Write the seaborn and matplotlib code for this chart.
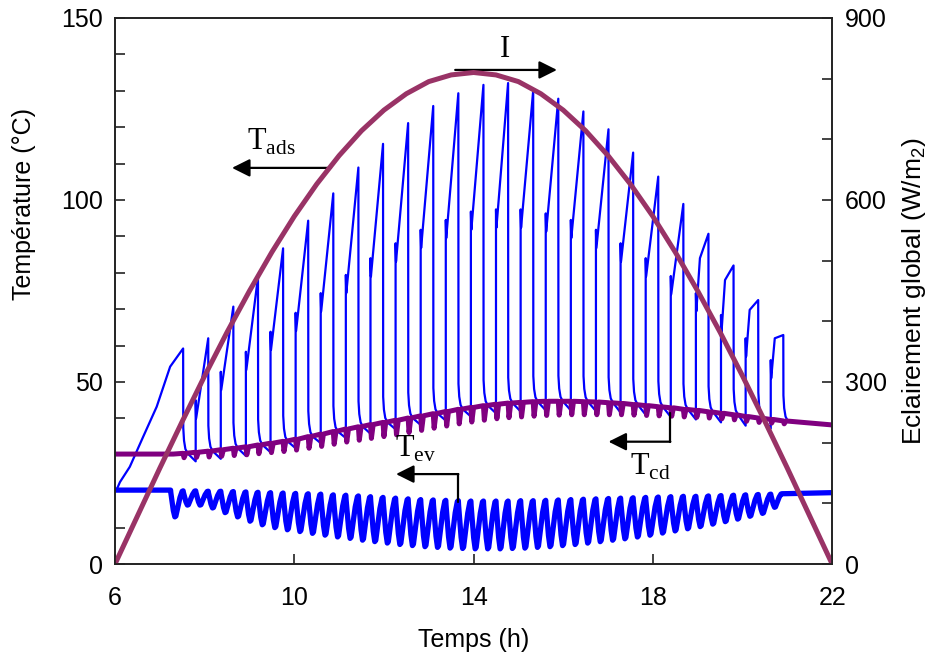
import matplotlib
matplotlib.use("Agg")
import matplotlib.pyplot as plt
import seaborn as sns

# global irradiance I (W/m2), read every half hour
i_time = [6.0, 6.5, 7.0, 7.5, 8.0, 8.5, 9.0, 9.5, 10.0, 10.5, 11.0, 11.5, 12.0, 12.5, 13.0, 13.5,
          14.0, 14.5, 15.0, 15.5, 16.0, 16.5, 17.0, 17.5, 18.0, 18.5, 19.0, 19.5, 20.0, 20.5, 21.0, 21.5, 22.0]
i_value = [0, 79, 158, 235, 310, 382, 450, 514, 573, 626, 673, 714, 748, 775, 795, 806,
           810, 806, 795, 775, 748, 714, 673, 626, 573, 514, 450, 382, 310, 235, 158, 79, 0]

# switching instants (h) of the adsorber cycle
event_t = [7.24, 7.52, 7.80, 8.08, 8.36, 8.64, 8.92, 9.19, 9.47, 9.75,
           10.03, 10.31, 10.59, 10.87, 11.15, 11.43, 11.70, 11.98, 12.26, 12.54,
           12.82, 13.10, 13.38, 13.66, 13.94, 14.22, 14.50, 14.77, 15.05, 15.33,
           15.61, 15.89, 16.17, 16.45, 16.73, 17.01, 17.28, 17.56, 17.84, 18.12,
           18.40, 18.68, 18.96, 19.24, 19.52, 19.80, 20.07, 20.35, 20.63, 20.91]

# condenser temperature at each switch and depth of the dip
tcd_start, tcd_end = 30.2, 38.2
tcd_event = [30.2, 30.4, 30.7, 31.0, 31.4, 31.8, 32.2, 32.7, 33.2, 33.7,
             34.3, 35.0, 35.7, 36.4, 37.1, 37.7, 38.3, 38.9, 39.5, 40.1,
             40.7, 41.3, 41.9, 42.5, 43.0, 43.5, 43.9, 44.2, 44.4, 44.6,
             44.7, 44.7, 44.7, 44.6, 44.5, 44.3, 44.1, 43.8, 43.5, 43.2,
             42.9, 42.5, 42.2, 41.8, 41.4, 41.0, 40.5, 40.1, 39.7, 39.3]
tcd_dip = [0.0, 1.2, 1.4, 1.6, 1.8, 2.0, 2.2, 2.4, 2.6, 2.8,
           3.0, 3.2, 3.4, 3.5, 3.6, 3.7, 3.8, 3.9, 4.0, 4.0,
           4.0, 4.0, 4.0, 4.0, 4.0, 4.0, 4.0, 4.0, 4.0, 4.0,
           3.9, 3.8, 3.7, 3.6, 3.5, 3.3, 3.1, 2.9, 2.7, 2.5,
           2.3, 2.1, 1.9, 1.7, 1.5, 1.4, 1.3, 1.2, 1.0, 0.8]

# evaporator temperature: flat start/end, low and high values of each oscillation
tev_start, tev_stop_t, tev_end = 20.3, 20.88, 19.6
tev_low = [12.8, 16.1, 16.1, 15.3, 14.0, 12.8, 11.6, 10.6, 9.8, 9.2,
           8.7, 8.2, 7.7, 7.2, 6.8, 6.3, 5.9, 5.5, 5.1, 4.8,
           4.5, 4.3, 4.1, 4.0, 3.9, 3.9, 3.9, 4.0, 4.1, 4.3,
           4.5, 4.8, 5.1, 5.5, 5.9, 6.3, 6.7, 7.2, 7.7, 8.3,
           8.9, 9.5, 10.1, 10.8, 11.5, 12.2, 13.0, 13.8, 15.5]
tev_high = [20.1, 20.1, 20.0, 20.0, 19.9, 19.8, 19.7, 19.6, 19.5, 19.4,
            19.3, 19.2, 19.0, 18.9, 18.7, 18.5, 18.3, 18.1, 17.9, 17.7,
            17.6, 17.5, 17.4, 17.3, 17.3, 17.3, 17.3, 17.4, 17.4, 17.5,
            17.6, 17.7, 17.8, 17.9, 18.0, 18.1, 18.2, 18.3, 18.4, 18.5,
            18.6, 18.6, 18.7, 18.8, 18.9, 19.0, 19.1, 19.2, 19.3]

# adsorber temperature: warm-up ramp, then per cycle jump value, shoulder and peak
ads_ramp_t = [6.0, 6.05, 6.11, 6.33, 6.63, 6.93, 7.23, 7.52]
ads_ramp_v = [20.3, 20.8, 22.5, 26.7, 35.0, 43.2, 54.2, 59.2]
ads_peak = [59.2, 62.0, 70.7, 78.9, 86.7, 94.3, 101.8, 108.9, 115.4, 121.1,
            125.8, 129.3, 131.6, 132.1, 130.0, 127.8, 124.3, 119.4, 113.0, 106.4,
            98.9, 90.7, 82.0, 72.5, 62.9]
ads_mid = [None, 45.0, 52.8, 58.3, 63.8, 69.0, 74.4, 79.4, 84.0, 88.1,
           91.8, 94.5, 96.8, 97.4, 97.4, 96.3, 94.5, 91.8, 88.1, 84.0,
           79.1, 74.4, 68.4, 62.0, 56.0]
ads_shoulder = [None, None, None, None, None, None, None, None, None, None,
                None, None, None, None, None, None, None, None, None, None,
                None, 84.0, 78.0, 69.8, 62.0]

# ---- build the traces ----
def drop_tail(t, base):
    return [(t + 0.003, base + 7), (t + 0.02, base + 3.5), (t + 0.05, base + 1.2), (t + 0.1, base)]

ads = list(zip(ads_ramp_t, ads_ramp_v))
ads += drop_tail(event_t[1], tcd_event[1])
for k in range(1, len(ads_peak)):
    tj, tp = event_t[2 * k], event_t[2 * k + 1]
    ads += [(tj, tcd_event[2 * k] - 2.5), (tj, ads_mid[k]), (tj + 0.01, ads_mid[k] - 5)]
    if ads_shoulder[k] is not None:
        ads.append((tj + 0.09, ads_shoulder[k]))
    ads.append((tp, ads_peak[k]))
    ads += drop_tail(tp, tcd_event[2 * k + 1])
ads.append((22.0, tcd_end))

tcd = [(6.0, tcd_start)]
for e, b, d in zip(event_t, tcd_event, tcd_dip):
    tcd += [(e, b), (e + 0.02, b - d), (e + 0.06, b)]
tcd.append((22.0, tcd_end))

# evaporator: rounded fall then rounded rise within each half cycle
tev = [(6.0, tev_start), (event_t[0], tev_start)]
prev_hi = tev_start
for n in range(len(tev_low)):
    e = event_t[n]
    e_next = event_t[n + 1] if n + 1 < len(tev_low) else tev_stop_t
    lo, hi = tev_low[n], tev_high[n]
    span = e_next - e
    tev += [(e + 0.02 * span, prev_hi - 0.1 * (prev_hi - lo)),
            (e + 0.22 * span, lo + 0.25 * (prev_hi - lo)),
            (e + 0.34 * span, lo + 0.02 * (prev_hi - lo)),
            (e + 0.42 * span, lo + 0.05 * (hi - lo)),
            (e + 0.75 * span, lo + 0.75 * (hi - lo)),
            (e + 0.92 * span, lo + 0.98 * (hi - lo)),
            (e_next, hi)]
    prev_hi = hi
tev.append((22.0, tev_end))

# ---- plot ----
sns.set_style("ticks")
plt.rcParams["font.family"] = ["Liberation Sans", "DejaVu Sans"]
plt.rcParams["axes.linewidth"] = 1.2
plt.rcParams["text.color"] = "black"
plt.rcParams["axes.labelcolor"] = "black"
plt.rcParams["xtick.color"] = "black"
plt.rcParams["ytick.color"] = "black"
fs = 18

fig, ax = plt.subplots(figsize=(9.35, 6.62), dpi=100)
fig.subplots_adjust(left=0.123, right=0.89, top=0.973, bottom=0.148)

blue, purple, plum = "#0000FF", "#800080", "#993366"
sns.lineplot(x=[p[0] for p in ads], y=[p[1] for p in ads], sort=False, estimator=None,
             color=blue, lw=1.6, ax=ax, legend=False)
sns.lineplot(x=[p[0] for p in tev], y=[p[1] for p in tev], sort=False, estimator=None,
             color=blue, lw=3.8, ax=ax, legend=False)
sns.lineplot(x=[p[0] for p in tcd], y=[p[1] for p in tcd], sort=False, estimator=None,
             color=purple, lw=3.6, ax=ax, legend=False)

ax2 = ax.twinx()
sns.lineplot(x=i_time, y=i_value, sort=False, estimator=None, color=plum, lw=3.6,
             ax=ax2, legend=False)

ax.set_xlim(6, 22)
ax.set_ylim(0, 150)
ax2.set_ylim(0, 900)
ax.set_xticks([6, 10, 14, 18, 22])
ax.set_yticks([0, 50, 100, 150])
ax.set_yticks(range(0, 151, 10), minor=True)
ax2.set_yticks([0, 300, 600, 900])
ax2.set_yticks(range(0, 901, 100), minor=True)
ax.tick_params(axis="both", which="both", direction="in", labelsize=fs, color="#222222",
               labelcolor="black")
ax.tick_params(axis="both", which="major", length=7, width=1.2)
ax.tick_params(axis="y", which="minor", length=7, width=1.2)
ax.tick_params(axis="x", pad=16)
ax.tick_params(axis="y", pad=9)
ax2.tick_params(axis="y", which="both", direction="in", labelsize=fs, length=7, width=1.2, pad=9,
                color="#222222", labelcolor="black")

ax.set_xlabel("Temps (h)", fontsize=fs, labelpad=13)
ax.set_ylabel("Température (°C)", fontsize=fs)
ax.yaxis.set_label_coords(-0.11, 0.66)
ax2.set_ylabel(r"Eclairement global (W/m$_\mathregular{2}$)", fontsize=19)
ax2.yaxis.set_label_coords(1.095, 0.5)
for s in list(ax.spines.values()) + list(ax2.spines.values()):
    s.set_color("#222222")

# curve labels with arrows
serif = "Liberation Serif"
arrow = dict(arrowstyle="-|>", color="black", lw=1.6, mutation_scale=27, shrinkA=0, shrinkB=0)
ax.text(14.70, 141.2, "I", fontsize=22, family=serif, ha="center", va="center")
ax.annotate("", xy=(15.86, 135.7), xytext=(13.59, 135.7), arrowprops=arrow)

ax.text(8.95, 113.7, r"T$_\mathregular{ads}$", fontsize=22, family=serif, ha="left", va="baseline")
ax.annotate("", xy=(8.61, 108.8), xytext=(10.82, 108.8), arrowprops=arrow)

ax.text(12.24, 29.5, r"T$_\mathregular{ev}$", fontsize=22, family=serif, ha="left", va="baseline")
ax.plot([13.66, 13.66], [17.1, 24.7], color="black", lw=1.6)
ax.annotate("", xy=(12.27, 24.7), xytext=(13.66, 24.7), arrowprops=arrow)

ax.text(17.49, 24.5, r"T$_\mathregular{cd}$", fontsize=22, family=serif, ha="left", va="baseline")
ax.plot([18.39, 18.39], [41.5, 33.6], color="black", lw=1.6)
ax.annotate("", xy=(17.01, 33.6), xytext=(18.39, 33.6), arrowprops=arrow)

fig.savefig("out.png", dpi=100)
